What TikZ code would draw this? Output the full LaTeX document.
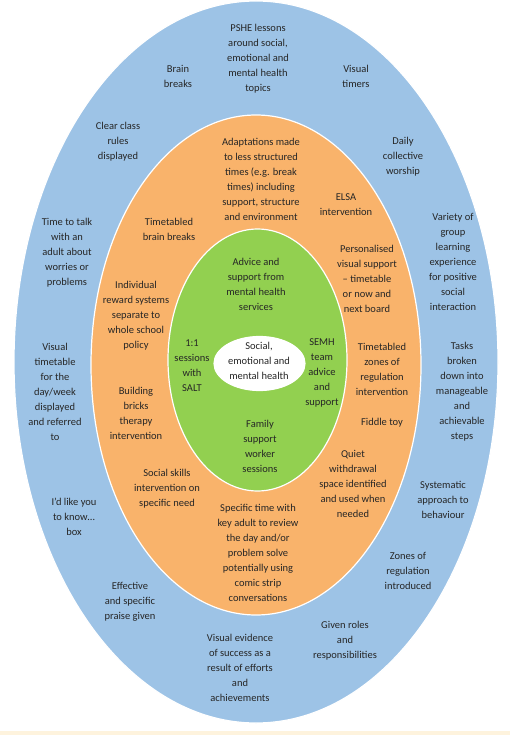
\documentclass[tikz,border=0pt]{standalone}
\usepackage{fontspec}
\setmainfont{Carlito}
\definecolor{ringblue}{HTML}{9DC3E6}
\definecolor{ringorange}{HTML}{F9B36B}
\definecolor{ringgreen}{HTML}{92D050}
\definecolor{cream}{HTML}{FEF3DD}
\definecolor{txt}{HTML}{262626}
\begin{document}
\begin{tikzpicture}[x=1pt,y=-1pt,
  ring/.style={draw=white,line width=1.2pt},
  lbl/.style={align=center,text=txt,inner sep=0pt,font=\fontsize{10.5}{15}\selectfont}]
\useasboundingbox (0,0) rectangle (510,735);
\fill[white] (0,0) rectangle (510,735);
\fill[cream] (0,731) rectangle (510,735);
% rings
\filldraw[ring,fill=ringblue] (256,362) ellipse [x radius=242,y radius=361];
\filldraw[ring,fill=ringorange] (256,365) ellipse [x radius=165,y radius=250];
\filldraw[ring,fill=ringgreen] (257.5,360) ellipse [x radius=89.5,y radius=131];
\filldraw[ring,fill=white] (259.5,363.5) ellipse [x radius=45.5,y radius=27];
% centre
\node[lbl] (core) at (259,361) {Social,\\emotional and\\mental health};
% green ring
\node[lbl] (g1) at (256,284.5) {Advice and\\support from\\mental health\\services};
\node[lbl] (g2) at (192,365.5) {1:1\\sessions\\with\\SALT};
\node[lbl] (g3) at (322,373) {SEMH\\team\\advice\\and\\support};
\node[lbl] (g4) at (260,446.5) {Family\\support\\worker\\sessions};
% orange ring
\node[lbl] (o1) at (261,179.5) {Adaptations made\\to less structured\\times (e.g. break\\times) including\\support, structure\\and environment};
\node[lbl] (o2) at (346,204.5) {ELSA\\intervention};
\node[lbl] (o3) at (169,229.5) {Timetabled\\brain breaks};
\node[lbl] (o4) at (367,279) {Personalised\\visual support\\– timetable\\or now and\\next board};
\node[lbl] (o5) at (136,315.5) {Individual\\reward systems\\separate to\\whole school\\policy};
\node[lbl] (o6) at (382,369) {Timetabled\\zones of\\regulation\\intervention};
\node[lbl] (o7) at (136,413.5) {Building\\bricks\\therapy\\intervention};
\node[lbl] (o8) at (382,423) {Fiddle toy};
\node[lbl] (o9) at (353,483.5) {Quiet\\withdrawal\\space identified\\and used when\\needed};
\node[lbl] (o10) at (167,489) {Social skills\\intervention on\\specific need};
\node[lbl] (o11) at (258,553) {Specific time with\\key adult to review\\the day and/or\\problem solve\\potentially using\\comic strip\\conversations};
% blue ring
\node[lbl] (b1) at (258,59) {PSHE lessons\\around social,\\emotional and\\mental health\\topics};
\node[lbl] (b2) at (178,76) {Brain\\breaks};
\node[lbl] (b3) at (356,76) {Visual\\timers};
\node[lbl] (b4) at (118,142) {Clear class\\rules\\displayed};
\node[lbl] (b5) at (403,157) {Daily\\collective\\worship};
\node[lbl] (b6) at (67,252.5) {Time to talk\\with an\\adult about\\worries or\\problems};
\node[lbl] (b7) at (453,262) {Variety of\\group\\learning\\experience\\for positive\\social\\interaction};
\node[lbl] (b8) at (55,392) {Visual\\timetable\\for the\\day/week\\displayed\\and referred\\to};
\node[lbl] (b9) at (462,392) {Tasks\\broken\\down into\\manageable\\and\\achievable\\steps};
\node[lbl] (b10) at (443,500) {Systematic\\approach to\\behaviour};
\node[lbl] (b11) at (74,517) {I'd like you\\to know…\\box};
\node[lbl] (b12) at (408,571) {Zones of\\regulation\\introduced};
\node[lbl] (b13) at (130,602) {Effective\\and specific\\praise given};
\node[lbl] (b14) at (345,640.5) {Given roles\\and\\responsibilities};
\node[lbl] (b15) at (240,668) {Visual evidence\\of success as a\\result of efforts\\and\\achievements};
\end{tikzpicture}
\end{document}
